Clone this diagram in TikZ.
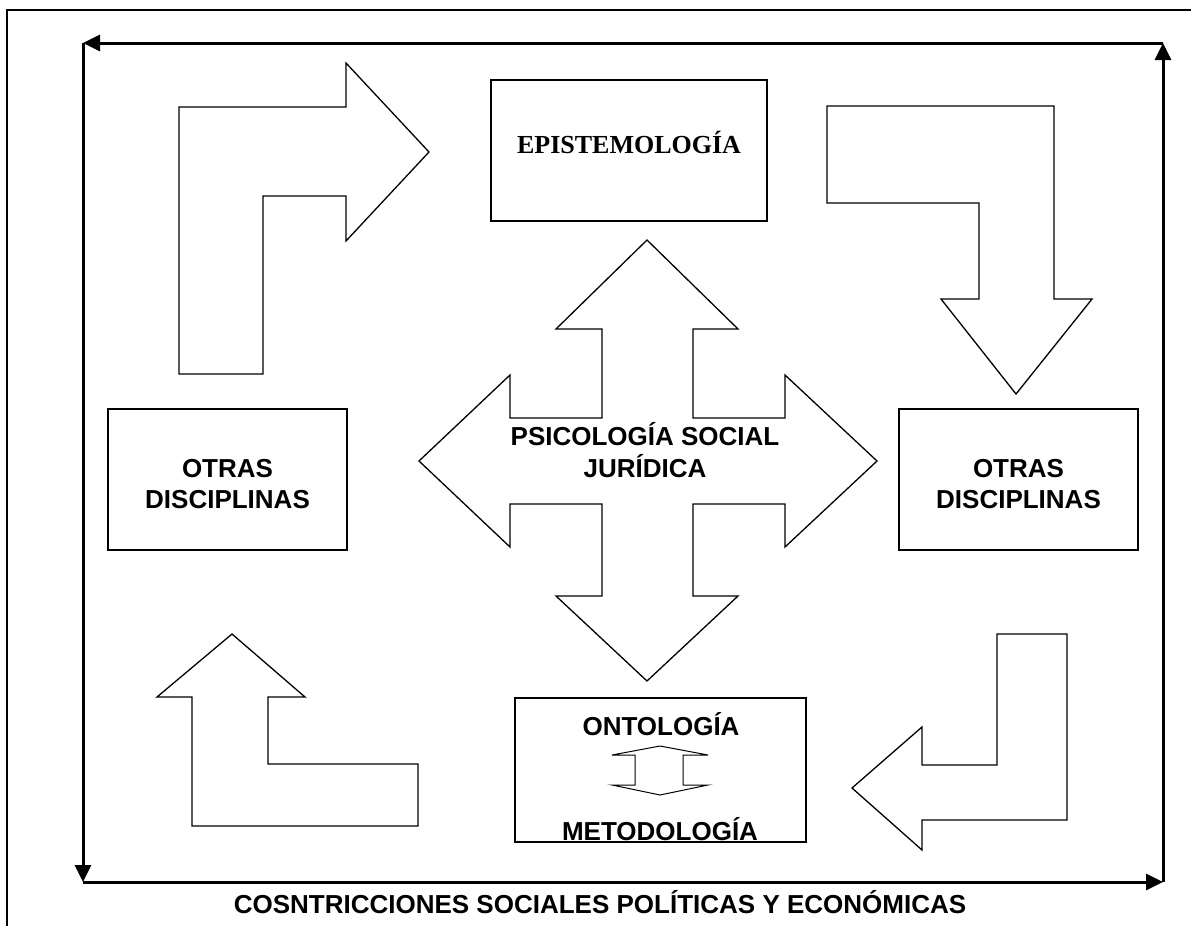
\documentclass[tikz,border=0pt]{standalone}
\usepackage{fontspec}
\setmainfont{Liberation Sans}
\newfontfamily\timesbf{Liberation Serif}[BoldFont={Liberation Serif Bold}]
\usetikzlibrary{arrows.meta}

\begin{document}
\begin{tikzpicture}[x=1pt,y=-1pt,
  outline/.style={draw, line width=1.3pt, line join=miter},
  panel/.style={draw, line width=1.4pt, rectangle, inner sep=0pt},
  heading/.style={font=\fontsize{26}{31}\selectfont\bfseries, inner sep=0pt, anchor=base},
  loop arrow/.style={line width=3pt, -{Triangle[length=17pt,width=16pt]}},
  frame line/.style={line width=1.8pt}
]
\useasboundingbox (0,0) rectangle (1191,926);

% outer frame (top and left edges)
\coordinate (fbl) at (7,926);
\coordinate (ftl) at (7,10);
\coordinate (ftr) at (1191,10);
\draw[frame line] (fbl) -- (ftl) -- (ftr);

% cycle of arrows round the whole scheme
\coordinate (ctl) at (83,43);
\coordinate (ctr) at (1163,43);
\coordinate (cbl) at (83,882);
\coordinate (cbr) at (1163,882);
\draw[loop arrow] (ctr) -- (ctl);
\draw[loop arrow] (ctl) -- (cbl);
\draw[loop arrow] (cbl) -- (cbr);
\draw[loop arrow] (cbr) -- (ctr);

% boxes
\node[panel, minimum width=276pt, minimum height=141pt] (epi) at (629,150.5) {};
\node[panel, minimum width=239pt, minimum height=141pt] (otrasL) at (227.5,479.5) {};
\node[panel, minimum width=239pt, minimum height=141pt] (otrasR) at (1018.5,479.5) {};
\node[panel, minimum width=291pt, minimum height=144pt] (onto) at (660.5,770) {};

% box texts
\node[font=\timesbf\fontsize{26}{30}\selectfont\bfseries, inner sep=0pt, anchor=base] (epit) at (629,153) {EPISTEMOLOGÍA};
\node[heading] (otrasL1) at (227.5,477) {OTRAS};
\node[heading] (otrasL2) at (227.5,508) {DISCIPLINAS};
\node[heading] (otrasR1) at (1018.5,477) {OTRAS};
\node[heading] (otrasR2) at (1018.5,508) {DISCIPLINAS};
\node[heading] (ontot) at (661,735) {ONTOLOGÍA};
\node[heading] (metot) at (660,840) {METODOLOGÍA};

% small double arrow between ontology and methodology
\draw[line width=1pt, line join=miter] (660,746) -- (708,755) -- (683,755) -- (683,785) -- (708,785)
  -- (660,795) -- (612,785) -- (635,785) -- (635,755) -- (612,755) -- cycle;

% central four-way arrow
\draw[outline] (647,240) -- (738,329) -- (693,329) -- (693,418) -- (785,418) -- (785,375)
  -- (877,461) -- (785,547) -- (785,504) -- (693,504) -- (693,596) -- (738,596)
  -- (647,681) -- (556,596) -- (602,596) -- (602,504) -- (510,504) -- (510,547)
  -- (419,461) -- (510,375) -- (510,418) -- (602,418) -- (602,329) -- (556,329) -- cycle;
\node[heading] (psi1) at (645,445) {PSICOLOGÍA SOCIAL};
\node[heading] (psi2) at (645,477) {JURÍDICA};

% bent arrow, top left (up, then right)
\draw[outline] (179,374) -- (179,107) -- (346,107) -- (346,63) -- (429,152) -- (346,241)
  -- (346,196) -- (263,196) -- (263,374) -- cycle;

% bent arrow, top right (right, then down)
\draw[outline] (827,106) -- (1054,106) -- (1054,299) -- (1092,299) -- (1016,394)
  -- (941,299) -- (979,299) -- (979,203) -- (827,203) -- cycle;

% bent arrow, bottom left (left, then up)
\draw[outline] (232,634) -- (305,697) -- (268,697) -- (268,764) -- (418,764) -- (418,826)
  -- (192,826) -- (192,697) -- (157,697) -- cycle;

% bent arrow, bottom right (down, then left)
\draw[outline] (997,634) -- (1067,634) -- (1067,820) -- (922,820) -- (922,850)
  -- (852,788) -- (922,727) -- (922,765) -- (997,765) -- cycle;

% caption under the scheme
\node[heading] (cap) at (600,913) {COSNTRICCIONES SOCIALES POLÍTICAS Y ECONÓMICAS};
\end{tikzpicture}
\end{document}
